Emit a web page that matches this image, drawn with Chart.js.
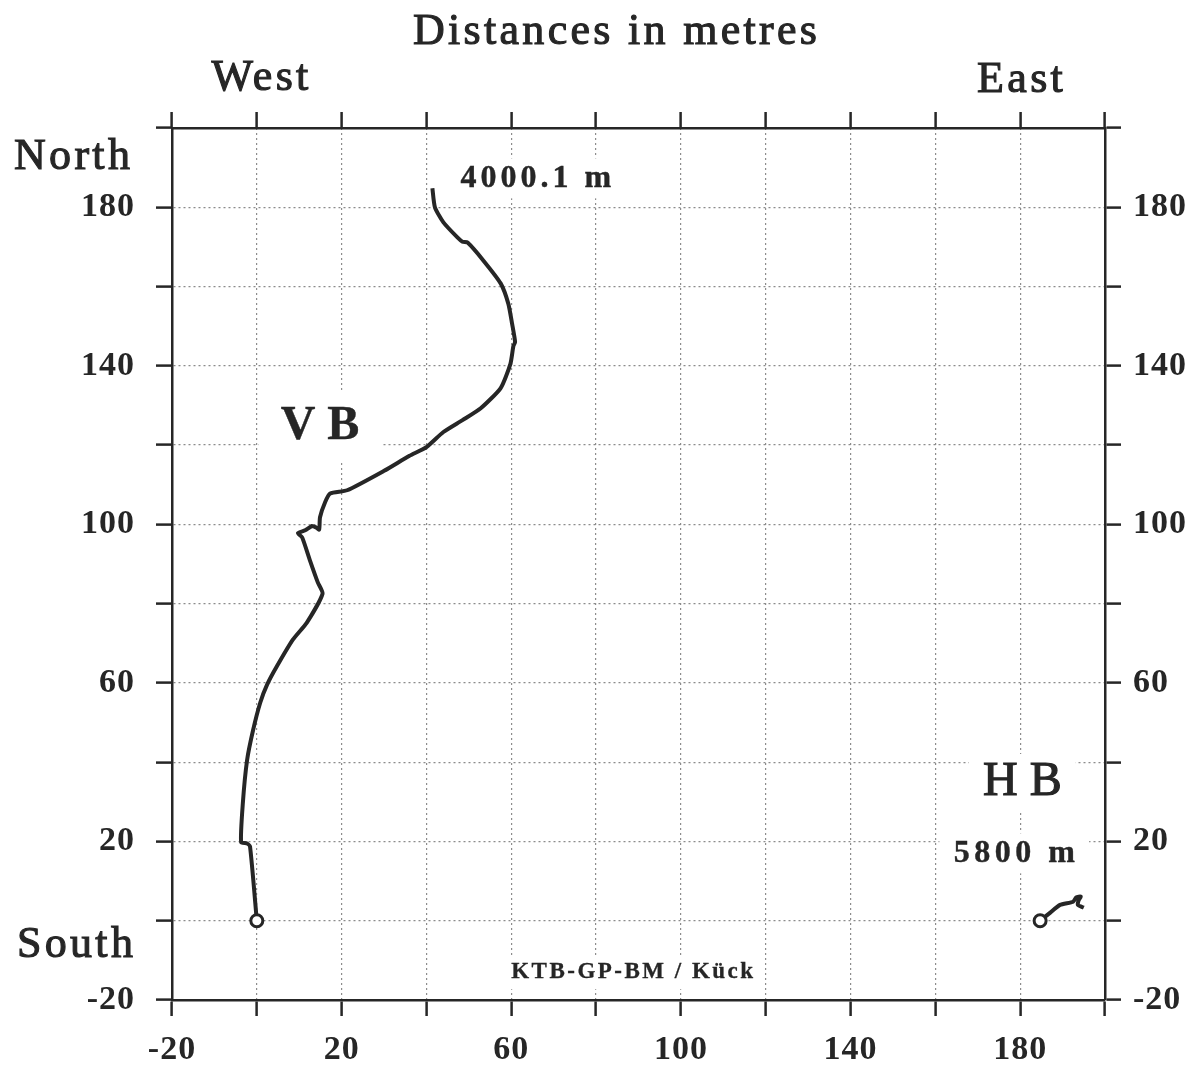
<!DOCTYPE html>
<html>
<head>
<meta charset="utf-8">
<title>KTB boreholes - distances in metres</title>
<script src="https://cdn.jsdelivr.net/npm/chart.js@4.4.1/dist/chart.umd.min.js"></script>
<style>
    html, body { margin: 0; padding: 0; background: #fff; }
    #wrap { width: 1194px; height: 1070px; }
</style>
</head>
<body>
<div id="wrap"><canvas id="trackChart" width="1194" height="1070"></canvas></div>
<script>
// Borehole tracks, metres east (x) and north (y) of the well head
const vbEast = [0, -1.6, -2.3, -3.7, -3.3, -2.3, -0.9, 0.8, 2.4, 4.8, 8.5, 11.8, 15.5, 14.4, 12.5,
    10.7, 9.7, 11.4, 13.0, 14.0, 14.7, 14.9, 16.1, 17.3, 21.3, 30.0, 36.0, 40.0, 44.0, 48.5,
    52.8, 57.5, 59.8, 60.5, 60.9, 60.2, 59.3, 57.5, 53.4, 49.7, 48.5, 47.3, 44.0, 42.0, 41.4];
const vbNorth = [0, 18.7, 19.5, 19.8, 29.6, 40.5, 48.0, 55.0, 59.5, 64.3, 70.9, 75.2, 82.5, 85.3, 91.0,
    96.7, 97.8, 98.5, 99.6, 99.2, 98.7, 101.8, 105.6, 107.8, 108.6, 113.5, 117.3, 119.5, 123.3, 126.3,
    129.3, 134.4, 140.5, 145.0, 146.0, 150.6, 155.7, 160.8, 166.6, 171.1, 171.3, 172.4, 176.2, 180.0, 184.8];

const hbEast = [184.7, 186.8, 189.4, 192.5, 193.2, 194.3, 193.8, 193.6, 195.0];
const hbNorth = [0, 1.8, 4.0, 4.8, 5.9, 6.1, 5.2, 4.0, 3.3];

// Axis range, and the ticks that carry a number
const axisMin = -20;
const axisMax = 200;
const axisStep = 20;
const labelledTicks = [-20, 20, 60, 100, 140, 180];

const serif = '"Liberation Serif", "DejaVu Serif", serif';
const inkColor = '#262626';
const gridColor = '#8c8c8c';

function toPoints(xs, ys) {
    return xs.map((x, i) => ({ x: x, y: ys[i] }));
}

function numberOnly(value) {
    return labelledTicks.includes(value) ? String(value) : '';
}

// Text written inside the plot, anchored in metres; white box breaks the grid
const plotLabels = [
    { text: '4000.1 m', x: 65.8, y: 187.3, font: 'bold 32px ' + serif, spacing: 4, boxH: 40, padX: 8, stroke: 0.4 },
    { text: 'V B', x: 14.9, y: 124.6, font: 'bold 48px ' + serif, spacing: 0, boxH: 72, padX: 22, stroke: 0.4 },
    { text: 'H B', x: 180.5, y: 35.0, font: '48px ' + serif, spacing: 0, boxH: 56, padX: 14, stroke: 1.2 },
    { text: '5800 m', x: 178.6, y: 17.0, font: 'bold 32px ' + serif, spacing: 4.5, boxH: 40, padX: 12, stroke: 0.4 },
    { text: 'KTB-GP-BM / Kück', x: 88.5, y: -13.0, font: 'bold 23px ' + serif, spacing: 2.5, boxH: 34, padX: 8, stroke: 0.3 }
];

// Text around the frame, in canvas pixels
const frameLabels = [
    { text: 'Distances in metres', x: 615, y: 32 },
    { text: 'West', x: 260, y: 78 },
    { text: 'East', x: 1020, y: 80 },
    { text: 'North', x: 72, y: 157 },
    { text: 'South', x: 75, y: 945 }
];

function inkText(ctx, text, x, y, stroke) {
    ctx.fillText(text, x, y);
    if (stroke) {
        ctx.lineWidth = stroke;
        ctx.strokeStyle = inkColor;
        ctx.strokeText(text, x, y);
    }
}

const figureText = {
    id: 'figureText',
    beforeDraw(chart) {
        chart.ctx.letterSpacing = '1px';
    },
    beforeDatasetsDraw(chart) {
        const ctx = chart.ctx;
        ctx.letterSpacing = '0px';
        const xs = chart.scales.x;
        const ys = chart.scales.y;
        plotLabels.forEach(l => {
            const px = xs.getPixelForValue(l.x);
            const py = ys.getPixelForValue(l.y);
            ctx.save();
            ctx.font = l.font;
            ctx.letterSpacing = l.spacing + 'px';
            const w = ctx.measureText(l.text).width;
            ctx.fillStyle = '#fff';
            ctx.fillRect(px - w / 2 - l.padX, py - l.boxH / 2, w + 2 * l.padX, l.boxH);
            ctx.fillStyle = inkColor;
            ctx.textAlign = 'center';
            ctx.textBaseline = 'middle';
            inkText(ctx, l.text, px + l.spacing / 2, py, l.stroke);
            ctx.restore();
        });
    },
    afterDraw(chart) {
        const ctx = chart.ctx;
        ctx.save();
        ctx.font = '44px ' + serif;
        ctx.letterSpacing = '3.3px';
        ctx.fillStyle = inkColor;
        ctx.textAlign = 'center';
        ctx.textBaseline = 'middle';
        frameLabels.forEach(l => inkText(ctx, l.text, l.x + 1.6, l.y, 1.1));
        ctx.restore();
    }
};

const tickFont = { family: serif, size: 34, weight: 'bold' };

function axis(position, size, showNumbers) {
    const horizontal = position === 'top' || position === 'bottom';
    return {
        type: 'linear',
        position: position,
        min: axisMin,
        max: axisMax,
        ticks: {
            stepSize: axisStep,
            autoSkip: false,
            maxRotation: 0,
            callback: showNumbers ? numberOnly : () => '',
            font: tickFont,
            color: inkColor,
            padding: horizontal ? 14 : (position === 'left' ? 21 : 12)
        },
        grid: {
            drawOnChartArea: position === 'bottom' || position === 'left',
            color: gridColor,
            lineWidth: 1.2,
            tickColor: inkColor,
            tickWidth: 2.5,
            tickLength: 16
        },
        border: { color: inkColor, width: 2.5, dash: [2, 3] },
        afterFit(scale) {
            if (horizontal) {
                scale.height = size;
            } else {
                scale.width = size;
            }
        }
    };
}

const trackStyle = {
    showLine: true,
    borderColor: inkColor,
    borderWidth: 4,
    tension: 0.2,
    pointRadius: ctx => ctx.dataIndex === 0 ? 6 : 0,
    pointBackgroundColor: '#fff',
    pointBorderColor: inkColor,
    pointBorderWidth: 3
};

new Chart(document.getElementById('trackChart'), {
    type: 'scatter',
    data: {
        datasets: [
            Object.assign({ label: 'VB', data: toPoints(vbEast, vbNorth) }, trackStyle),
            Object.assign({ label: 'HB', data: toPoints(hbEast, hbNorth) }, trackStyle)
        ]
    },
    options: {
        responsive: false,
        animation: false,
        devicePixelRatio: 1,
        layout: { padding: 0 },
        plugins: {
            legend: { display: false },
            tooltip: { enabled: false }
        },
        scales: {
            x: axis('bottom', 70, true),
            xTop: axis('top', 128, false),
            y: axis('left', 172, true),
            yRight: axis('right', 89, true)
        }
    },
    plugins: [figureText]
});
</script>
</body>
</html>
